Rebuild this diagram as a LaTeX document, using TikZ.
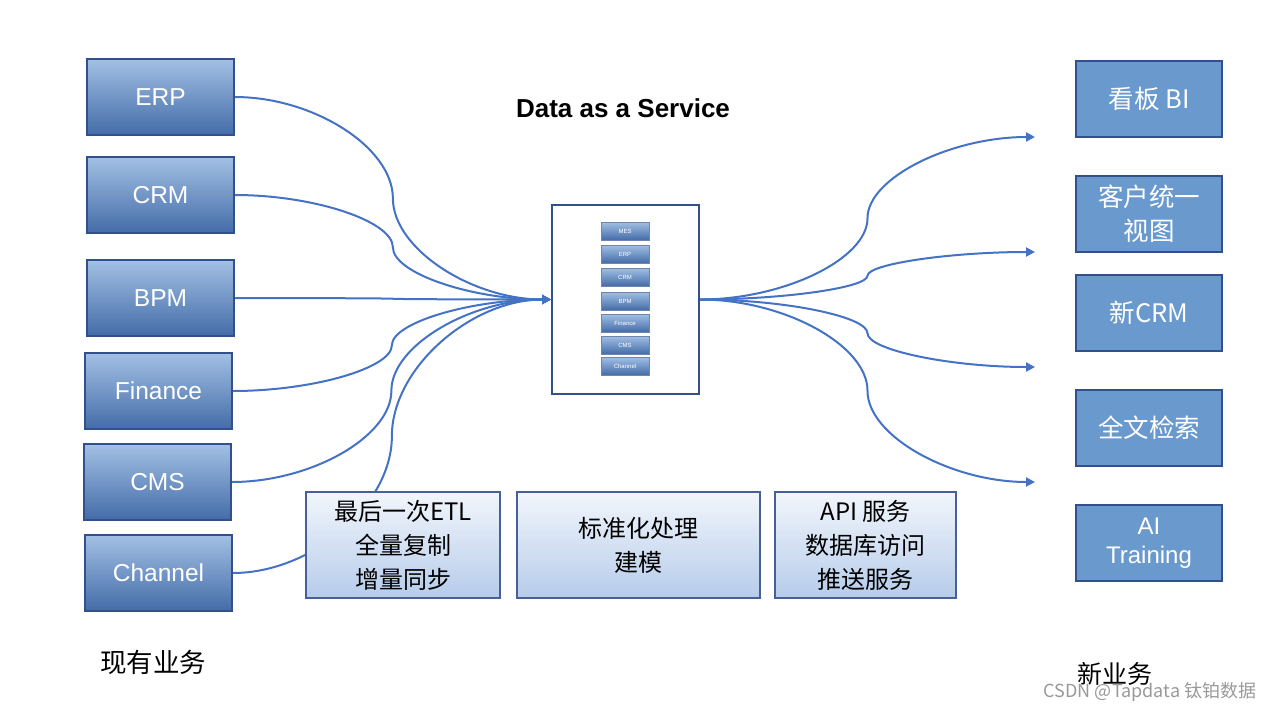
\documentclass[tikz,border=0pt]{standalone}
\usepackage{fontspec}
\setmainfont{Liberation Sans}
\newfontfamily\cjk{Noto Sans CJK SC}
\usetikzlibrary{arrows.meta,backgrounds,calc}
\definecolor{linkblue}{RGB}{68,114,196}
\definecolor{edgeblue}{RGB}{50,80,140}
\definecolor{srctop}{RGB}{162,192,228}
\definecolor{srcmid}{RGB}{118,162,214}
\definecolor{srcbot}{RGB}{68,108,168}
\definecolor{dstfill}{RGB}{106,153,206}
\definecolor{steptop}{RGB}{242,246,252}
\definecolor{stepbot}{RGB}{182,204,234}
\tikzset{
  srcbox/.style={draw=edgeblue, line width=1.5pt, top color=srctop, middle color=srcmid, bottom color=srcbot,
    minimum width=147pt, minimum height=76pt, text=white, font=\fontsize{24.5}{28}\selectfont},
  dstbox/.style={draw=edgeblue, line width=1.5pt, fill=dstfill, minimum width=146pt, minimum height=76pt,
    text=white, align=center, font=\cjk\fontsize{25.5}{34}\selectfont},
  stepbox/.style={draw=edgeblue!90, line width=1.5pt, top color=steptop, bottom color=stepbot,
    minimum height=106pt, align=center, font=\cjk\fontsize{24}{34}\selectfont},
  minibox/.style={draw=edgeblue!70, line width=0.6pt, top color=srctop, middle color=srcmid, bottom color=srcbot,
    minimum width=48pt, minimum height=18pt, inner sep=0pt, text=white, font=\fontsize{6}{7}\selectfont},
  link/.style={draw=linkblue, line width=2pt},
  tip/.style={-{Triangle[length=9pt,width=9pt]}},
  % curved elbow: horizontal out, vertical at half way, horizontal in
  elbow/.style={to path={let \p1=(\tikztostart), \p2=(\tikztotarget) in
    .. controls ({0.75*\x1+0.25*\x2},\y1) and ({0.5*\x1+0.5*\x2},{0.75*\y1+0.25*\y2})
    .. ({0.5*\x1+0.5*\x2},{0.5*\y1+0.5*\y2})
    .. controls ({0.5*\x1+0.5*\x2},{0.25*\y1+0.75*\y2}) and ({0.25*\x1+0.75*\x2},\y2)
    .. (\tikztotarget) \tikztonodes}}
}
\begin{document}
\begin{tikzpicture}[x=1pt,y=-1pt]
  \useasboundingbox (0,0) rectangle (1280,710);
  % existing systems
  \node[srcbox] (erp) at (160.5,97) {ERP};
  \node[srcbox] (crm) at (160.5,195) {CRM};
  \node[srcbox] (bpm) at (160.5,298) {BPM};
  \node[srcbox] (fin) at (158.5,391) {Finance};
  \node[srcbox] (cms) at (157.5,482) {CMS};
  \node[srcbox] (chn) at (158.5,573) {Channel};
  \node[font=\cjk\fontsize{26.5}{30}\selectfont] (old) at (153,662) {现有业务};

  % data service hub
  \node[font=\bfseries\fontsize{26}{30}\selectfont] (title) at (623,108) {Data as a Service};
  \node[draw=edgeblue, line width=2pt, fill=white, minimum width=147pt, minimum height=189pt] (hub) at (625.5,299.5) {};
  \node[minibox] (m1) at (625,231) {MES};
  \node[minibox] (m2) at (625,254) {ERP};
  \node[minibox] (m3) at (625,277) {CRM};
  \node[minibox] (m4) at (625,301) {BPM};
  \node[minibox] (m5) at (625,323) {Finance};
  \node[minibox] (m6) at (625,345) {CMS};
  \node[minibox] (m7) at (625,366) {Channel};

  % processing steps
  \node[stepbox, minimum width=194pt] (etl) at (403,545) {最后一次ETL\\全量复制\\增量同步};
  \node[stepbox, minimum width=243pt] (norm) at (638.5,545) {标准化处理\\建模};
  \node[stepbox, minimum width=181pt] (api) at (865.5,545) {API 服务\\数据库访问\\推送服务};

  % new business
  \node[dstbox] (bi) at (1149,99) {看板 BI};
  \node[dstbox] (view) at (1149,214) {客户统一\\视图};
  \node[dstbox] (ncrm) at (1149,313) {新CRM};
  \node[dstbox] (search) at (1149,428) {全文检索};
  \node[dstbox, font=\fontsize{24}{29}\selectfont] (ai) at (1149,543) {AI\\Training};
  \node[font=\cjk\fontsize{25}{28}\selectfont] (new) at (1115,674) {新业务};
  \node[text=gray!80, font=\cjk\fontsize{18}{22}\selectfont] (mark) at (1150,692) {CSDN @Tapdata 钛铂数据};

  \coordinate (t1) at (1035,137);
  \coordinate (t2) at (1035,252);
  \coordinate (t3) at (1035,367);
  \coordinate (t4) at (1035,482);

  \begin{scope}[on background layer]
    \foreach \s in {erp,crm,bpm,fin,cms,chn}
      \draw[link,tip] (\s.east) to[elbow] (hub.west);
    \foreach \t in {t1,t2,t3,t4}
      \draw[link,tip] (hub.east) to[elbow] (\t);
  \end{scope}
\end{tikzpicture}
\end{document}
